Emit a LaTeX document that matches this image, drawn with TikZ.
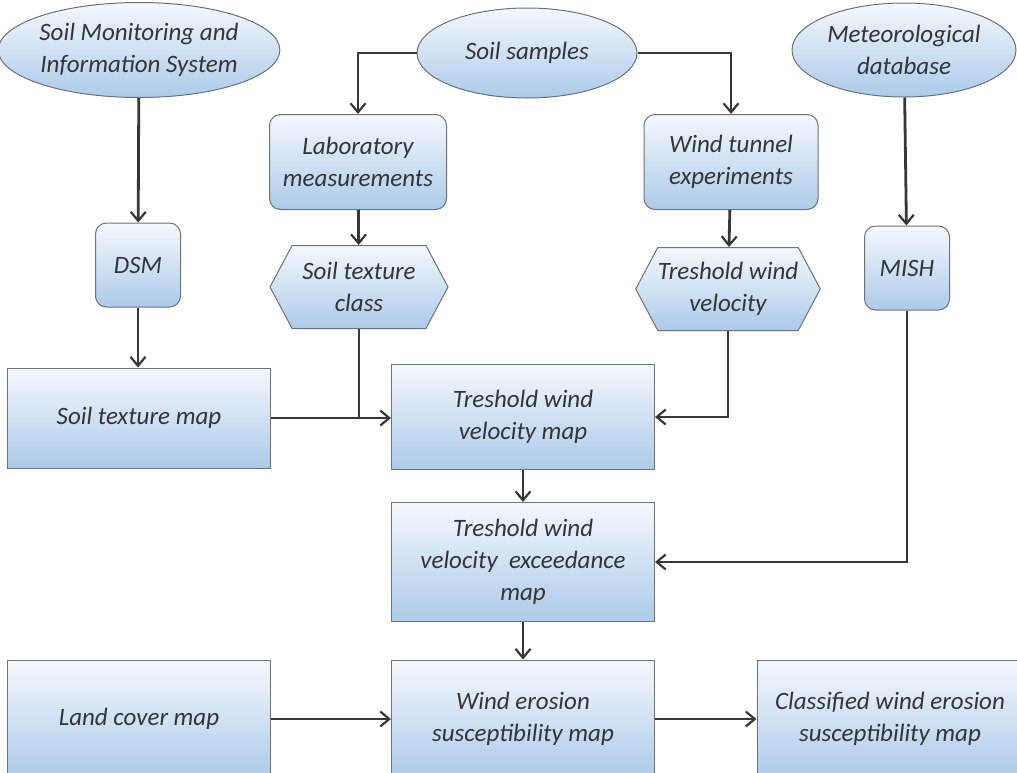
\documentclass[tikz,border=0pt]{standalone}
\usepackage{fontspec}
\setmainfont{Carlito}
\usetikzlibrary{shapes.geometric,shapes.symbols,arrows.meta}
\definecolor{boxtop}{RGB}{244,248,253}
\definecolor{boxbot}{RGB}{172,202,233}
\definecolor{boxline}{RGB}{110,113,118}
\definecolor{txt}{RGB}{50,53,58}
\definecolor{link}{RGB}{55,55,55}
\begin{document}
\begin{tikzpicture}[x=1pt, y=-1pt,
    every node/.style={font=\fontsize{25}{32}\selectfont\itshape, text=txt, align=center, inner sep=0pt},
    base/.style={draw=boxline, line width=1pt, top color=boxtop, bottom color=boxbot},
    source/.style={base, ellipse},
    rbox/.style={base, rectangle, rounded corners=11pt},
    hexa/.style={base, signal, signal to=east and west, signal pointer angle=124},
    mapbox/.style={base, rectangle},
    flow/.style={draw=link, line width=2.8pt, -{Straight Barb[length=9pt, width=15pt, line width=2.2pt]}}]
    \useasboundingbox (0,0) rectangle (1017,772);

    % sources
    \node[source, minimum width=268, minimum height=95] (smis) at (139,50) {Soil Monitoring and\\Information System};
    \node[source, minimum width=220, minimum height=90] (samples) at (527,53) {Soil samples};
    \node[source, minimum width=224, minimum height=94] (meteo) at (904,50) {Meteorological\\database};

    % intermediate steps
    \node[rbox, minimum width=177, minimum height=95] (lab) at (358,162) {Laboratory\\measurements};
    \node[rbox, minimum width=174, minimum height=95] (tunnel) at (731,162) {Wind tunnel\\experiments};
    \node[rbox, minimum width=85, minimum height=84] (dsm) at (138,265) {DSM};
    \node[rbox, minimum width=85, minimum height=84] (mish) at (907,268) {MISH};
    \node[hexa, minimum width=178, minimum height=83] (stclass) at (359,287) {Soil texture\\class};
    \node[hexa, minimum width=180, minimum height=83] (twv) at (728,289) {Treshold wind\\velocity};

    % maps
    \node[mapbox, minimum width=263, minimum height=100] (stmap) at (139,418) {Soil texture map};
    \node[mapbox, minimum width=263, minimum height=105] (twvm) at (523,417) {Treshold wind\\velocity map};
    \node[mapbox, minimum width=263, minimum height=119] (twvem) at (523,562) {Treshold wind\\velocity\ \ exceedance\\map};
    \node[mapbox, minimum width=263, minimum height=118] (land) at (139,719) {Land cover map};
    \node[mapbox, minimum width=263, minimum height=118] (wes) at (523,719) {Wind erosion\\susceptibility map};
    \node[mapbox, minimum width=266, minimum height=118] (cwes) at (890,719) {Classified wind erosion\\susceptibility map};

    \draw[flow] (smis) -- (dsm);
    \draw[flow] (dsm) -- (dsm |- stmap.north);
    \draw[flow] (samples.west) -| (lab.north);
    \draw[flow] (samples.east) -| (tunnel.north);
    \draw[flow] (lab) -- (stclass);
    \draw[flow] (tunnel) -- (twv);
    \draw[flow] (meteo) -- (mish);
    \draw[flow] (stmap.east) -- (stmap.east -| twvm.west);
    \draw[draw=link, line width=2.8pt] (stclass.south) -- (stclass.south |- stmap.east);
    \draw[flow] (twv.south) |- (twvm.east);
    \draw[flow] (twvm) -- (twvem);
    \draw[flow] (mish.south) |- (twvem.east);
    \draw[flow] (twvem) -- (wes);
    \draw[flow] (land) -- (wes);
    \draw[flow] (wes) -- (cwes);
\end{tikzpicture}
\end{document}
